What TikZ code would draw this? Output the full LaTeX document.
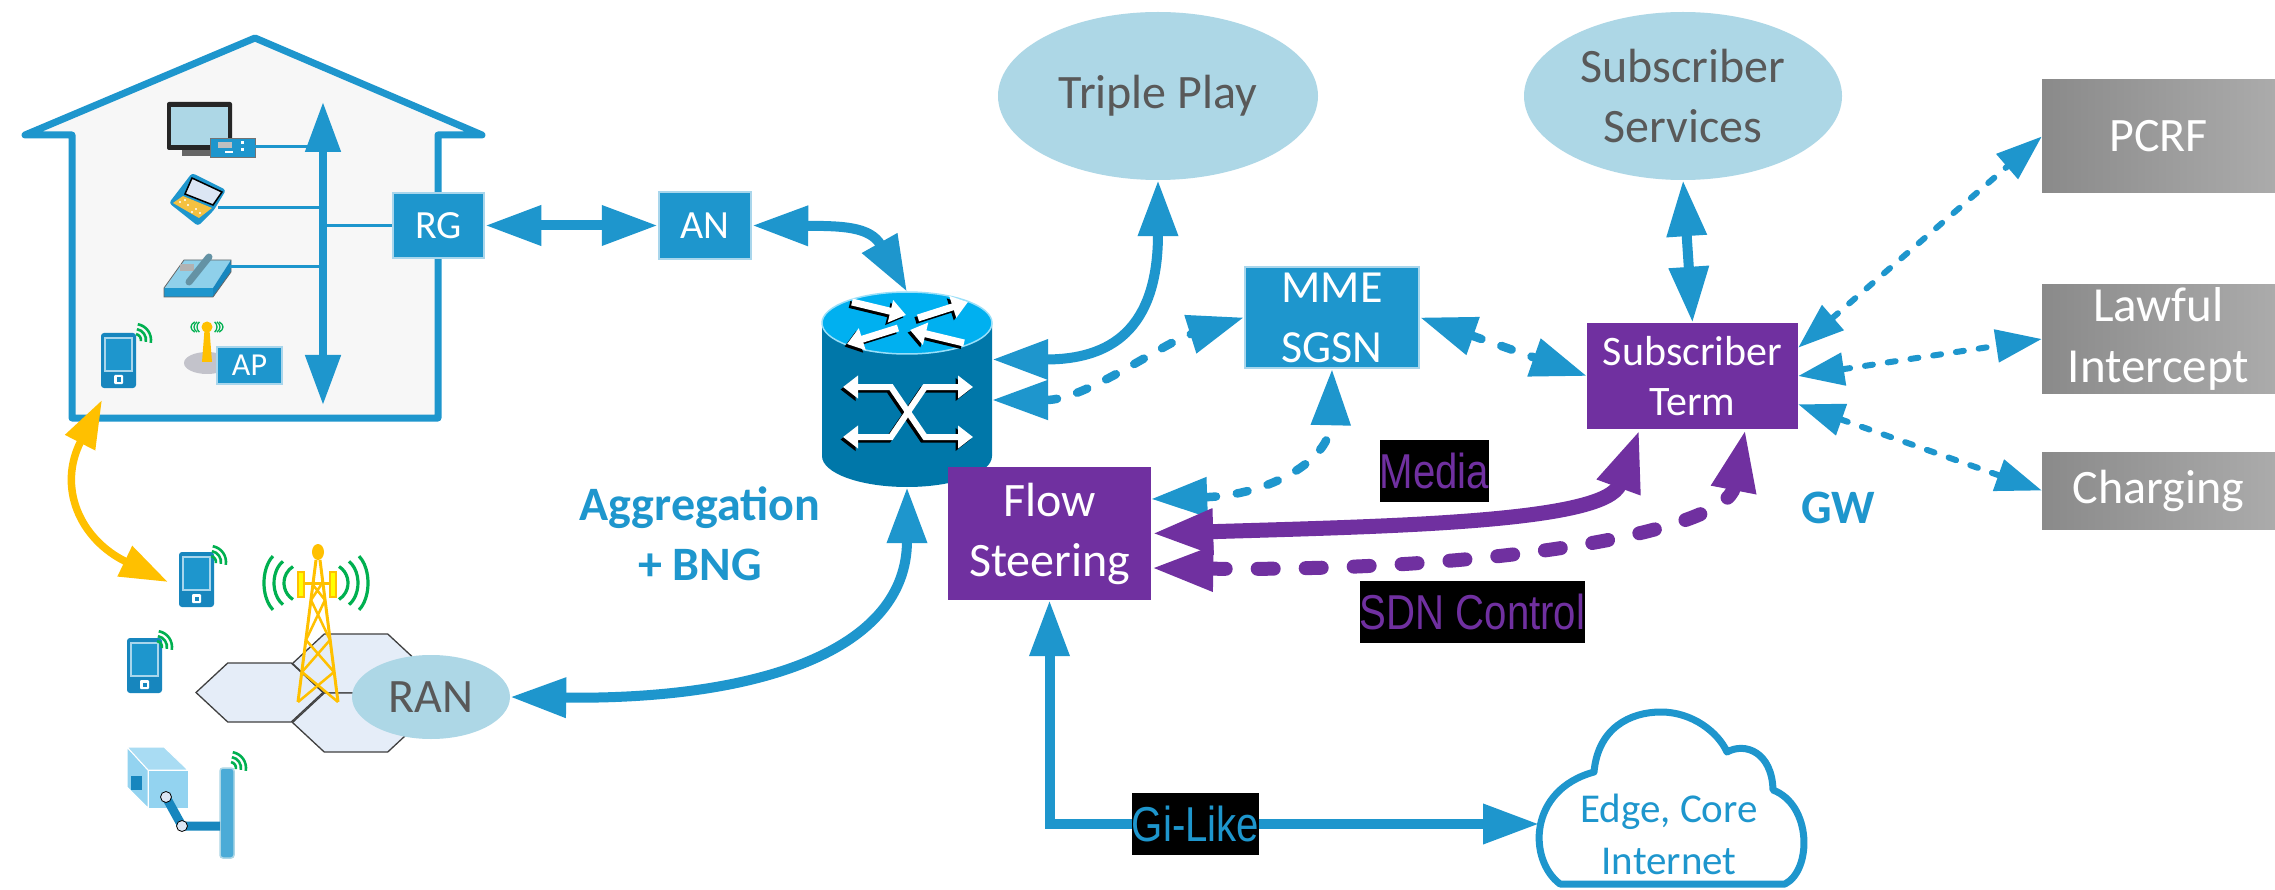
\documentclass[tikz,border=0pt]{standalone}
\usepackage{fontspec}
\setmainfont{Carlito}
\newfontfamily\narrowsans[FakeStretch=0.82]{Liberation Sans}
\usetikzlibrary{arrows.meta,calc,shapes.geometric}

\definecolor{netblue}{HTML}{1E96CD}
\definecolor{boxedge}{HTML}{A9D6EC}
\definecolor{svcblue}{HTML}{ADD7E6}
\definecolor{svctext}{HTML}{595959}
\definecolor{netpurple}{HTML}{7030A0}
\definecolor{graydark}{HTML}{8A8A8A}
\definecolor{graylight}{HTML}{ABABAB}
\definecolor{housefill}{HTML}{F7F7F7}
\definecolor{sunyellow}{HTML}{FFC000}
\definecolor{panelyellow}{HTML}{FFFF00}
\definecolor{wifigreen}{HTML}{00B050}
\definecolor{routertop}{HTML}{00B0F0}
\definecolor{routerbody}{HTML}{0077A9}
\definecolor{hexfill}{HTML}{E5EDF8}
\definecolor{hexedge}{HTML}{404040}
\definecolor{devblue}{HTML}{1786BE}
\definecolor{camlight}{HTML}{93D3F0}
\definecolor{screenlight}{HTML}{DCE6F4}
\definecolor{keyyellow}{HTML}{F4C141}
\definecolor{phonetop}{HTML}{8FD0EA}
\definecolor{apshadow}{HTML}{C3C3CB}

\newcommand{\fsLarge}{\fontsize{48}{60}\selectfont}
\newcommand{\fsTerm}{\fontsize{42}{50}\selectfont}
\newcommand{\fsBox}{\fontsize{40}{48}\selectfont}
\newcommand{\fsSmall}{\fontsize{32}{38}\selectfont}
\newcommand{\fsCloud}{\fontsize{41}{52}\selectfont}
\newcommand{\fsTag}{\fontsize{49}{56}\selectfont}

\tikzset{
  bhead/.tip={Triangle[length=56pt,width=38pt]},
  shead/.tip={Triangle[length=46pt,width=32pt]},
  phead/.tip={Triangle[length=62pt,width=42pt]},
  yhead/.tip={Triangle[length=48pt,width=32pt]},
  ihead/.tip={Triangle[length=50pt,width=34pt]},
  whead/.tip={Triangle[length=16pt,width=22pt]},
  netbox/.style={rectangle, fill=netblue, draw=boxedge, line width=2.5pt, text=white, inner sep=0pt, align=center},
  termbox/.style={rectangle, fill=netpurple, text=white, inner sep=0pt, align=center},
  extbox/.style={rectangle, left color=graydark, right color=graylight, text=white, inner sep=0pt, align=center},
  svc/.style={ellipse, fill=svcblue, text=svctext, inner sep=0pt, align=center},
  tag/.style={fill=black, inner xsep=0pt, inner ysep=0pt, minimum height=62pt, font=\narrowsans\fsTag},
  link/.style={draw=netblue, line width=10pt, {bhead}-{bhead}},
  ctrl/.style={draw=netblue, line width=8.5pt, line cap=round, dash pattern=on 11pt off 21pt, {bhead}-{bhead}},
  ext/.style={draw=netblue, line width=6pt, line cap=round, dash pattern=on 8pt off 15pt, {shead}-{shead}},
  media/.style={draw=netpurple, line width=15pt, {phead}-{phead}},
  sdn/.style={draw=netpurple, line width=14pt, line cap=round, dash pattern=on 16pt off 32pt, {phead}-{phead}},
  wire/.style={draw=netblue, line width=3pt},
  handset/.pic={
    \fill[devblue, rounded corners=3pt] (0,0) rectangle (35,55);
    \filldraw[fill=netblue, draw=boxedge, line width=1.2pt] (4,5) rectangle (31,38);
    \fill[white, rounded corners=1pt] (13,42) rectangle (22,51);
    \fill[devblue] (15.5,44.5) rectangle (19.5,48.5);
  },
  wifi/.pic={
    \foreach \r in {6,11,16}
      \draw[wifigreen, line width=2.6pt] (-80:\r) arc[start angle=-80, end angle=10, radius=\r];
  },
  hexcell/.pic={
    \filldraw[fill=hexfill, draw=hexedge, line width=1.3pt]
      (-63.5,0) -- (-31.75,-29.5) -- (31.75,-29.5) -- (63.5,0) -- (31.75,29.5) -- (-31.75,29.5) -- cycle;
  },
}

\begin{document}
\begin{tikzpicture}[x=1pt,y=-1pt]
\useasboundingbox (0,0) rectangle (2275,890);
\fill[white] (0,0) rectangle (2275,890);

% ---------- home network ----------
\draw[draw=netblue, fill=housefill, line width=7pt, line join=round]
  (25,135) -- (255,38) -- (482,135) -- (438,135) -- (438,418) -- (72,418) -- (72,135) -- cycle;

% TV with set-top box
\fill[black!85, rounded corners=2pt] (167,102) rectangle (232,150);
\fill[svcblue] (171,107) rectangle (228,145);
\fill[black!60] (182,150) rectangle (215,156);
\filldraw[fill=netblue, draw=black!55, line width=0.8pt] (210,138) rectangle (255,157);
\fill[black!25] (218,142) rectangle (232,148);
\fill[white] (241,141) rectangle (244,144);
\fill[white] (241,148) rectangle (244,151);
\fill[white] (225,151) rectangle (233,153);
\coordinate (tvport) at (255,147);

% laptop
\fill[netblue, rounded corners=3pt] (169,203) -- (192,173) -- (226,190) -- (214,210) -- (198,226) -- cycle;
\filldraw[fill=screenlight, draw=black, line width=1.5pt] (192,178) -- (222,192) -- (213,205) -- (185,194) -- cycle;
\fill[keyyellow] (173,203) -- (183,196) -- (212,208) -- (199,218) -- cycle;
\foreach \px/\py in {180/202,188/205,196/209,192/212,200/213,185/200}
  \fill[white] (\px,\py) circle (1.2);
\coordinate (laptopport) at (218,208);

% desk phone
\fill[phonetop] (164,288) -- (184,260) -- (231,260) -- (213,288) -- cycle;
\fill[netblue] (164,288) rectangle (213,297);
\fill[devblue] (213,288) -- (231,260) -- (231,272) -- (213,297) -- cycle;
\draw[black!60, line width=0.8pt] (164,288) -- (184,260) -- (231,260) -- (231,272) -- (213,297) -- (164,297) -- cycle;
\fill[black!30] (180,264) rectangle (194,271);
\draw[phonetop!70!black, line width=7pt, line cap=round] (189,282) -- (209,257);
\coordinate (phoneport) at (230,267);

% handset inside the home
\pic at (101,333) {handset};
\pic at (135,340) {wifi};

% access point antenna
\fill[apshadow] (207,363) ellipse[x radius=23, y radius=11];
\fill[sunyellow] (204.5,330) -- (209.5,330) -- (212,362) -- (202,362) -- cycle;
\fill[sunyellow] (207,327) circle (5.5);
\foreach \rx in {10,13,16} {
  \draw[wifigreen, line width=1.3pt] (207,327) ++({\rx*cos(140)},{8*sin(140)}) arc[start angle=140, end angle=220, x radius=\rx, y radius=8];
  \draw[wifigreen, line width=1.3pt] (207,327) ++({\rx*cos(-40)},{8*sin(-40)}) arc[start angle=-40, end angle=40, x radius=\rx, y radius=8];
}

% in-home bus
\coordinate (busT) at (323,102);
\coordinate (busB) at (323,405);
\node[netbox, minimum width=91pt, minimum height=65pt, font=\fsBox] (rg) at (438.5,225.5) {RG};
\node[netbox, minimum width=65pt, minimum height=37pt, font=\fsSmall] (ap) at (249.5,365.5) {AP};
\draw[wire] (tvport) -- (tvport -| busT);
\draw[wire] (laptopport) -- (laptopport -| busT);
\draw[wire] (phoneport) -- (phoneport -| busT);
\draw[wire] ($(ap.east)+(0,-10)$) -- ($(ap.east)+(0,-10)$ -| busT);
\draw[wire] (rg.west) -- (rg.west -| busT);
\draw[draw=netblue, line width=8pt, {ihead}-{ihead}] (busT) -- (busB);

% ---------- radio access ----------
\pic at (259.5,692.5) {hexcell};
\pic at (356,663.5) {hexcell};
\pic at (356,722.5) {hexcell};

% cell tower
\draw[sunyellow, line width=3pt] (316,560) -- (298,702) (320,560) -- (338,702);
\draw[sunyellow, line width=2.5pt]
  (313,585) -- (325,600) (321,585) -- (311,600)
  (311,600) -- (330,640) (325,600) -- (306,640)
  (306,640) -- (334,672) (330,640) -- (302,672)
  (302,672) -- (338,702) (334,672) -- (298,702);
\draw[sunyellow, line width=3pt] (304,583) -- (330,583);
\filldraw[fill=panelyellow, draw=sunyellow, line width=1.5pt] (298,572) rectangle (304,597);
\filldraw[fill=panelyellow, draw=sunyellow, line width=1.5pt] (330,572) rectangle (336,597);
\fill[sunyellow] (318,552) ellipse[x radius=6, y radius=8];
\foreach \lx/\rx/\bh in {264/368/31, 274/358/25, 284/348/19} {
  \draw[wifigreen, line width=3.2pt] (\lx+18,583) ++({18*cos(120)},{\bh*sin(120)}) arc[start angle=120, end angle=240, x radius=18, y radius=\bh];
  \draw[wifigreen, line width=3.2pt] (\rx-18,583) ++({18*cos(-60)},{\bh*sin(-60)}) arc[start angle=-60, end angle=60, x radius=18, y radius=\bh];
}

% handsets in the field
\pic at (179,552) {handset};
\pic at (210,562) {wifi};
\pic at (127,638) {handset};
\pic at (156,647) {wifi};

% surveillance camera
\filldraw[fill=camlight, draw=white, line width=1pt] (127,747) -- (148,770) -- (148,808) -- (127,787) -- cycle;
\filldraw[fill=camlight!80!white, draw=white, line width=1pt] (127,747) -- (164,747) -- (188,770) -- (148,770) -- cycle;
\filldraw[fill=camlight, draw=white, line width=1pt] (148,770) rectangle (188,808);
\fill[devblue] (131,776) rectangle (142,790);
\filldraw[fill=netblue!80!white, draw=svcblue, line width=1.5pt, rounded corners=3pt] (220,768) rectangle (234,858);
\draw[devblue, line width=9pt, line join=round] (166,797) -- (182,826) -- (220,826);
\filldraw[fill=screenlight, draw=black, line width=0.8pt] (166,797) circle (5.5);
\filldraw[fill=screenlight, draw=black, line width=0.8pt] (182,826) circle (5.5);
\pic at (230,768) {wifi};

\node[svc, minimum width=158pt, minimum height=84pt, font=\fsLarge] (ran) at (431,697) {RAN};

% home to handset radio link
\coordinate (homeue) at (102,400);
\coordinate (fieldue) at (168,582);
\draw[sunyellow, line width=7.5pt, {yhead}-{yhead}] (homeue) .. controls (57,487.5) and (80,539.5) .. (fieldue);

% ---------- aggregation router ----------
\fill[routerbody] (822,323) -- (822,456) arc[start angle=180, end angle=0, x radius=85, y radius=31] -- (992,323) -- cycle;
\filldraw[fill=routertop, draw=routertop!40!white, line width=1.5pt] (907,323) ellipse[x radius=85, y radius=31];
\foreach \ox/\oy/\sc in {-2.5/2.5/black, 0/0/white} {
  \begin{scope}[shift={(\ox,\oy)}]
    \draw[color=\sc, line width=7pt, -{whead}] (852,302) -- (906,315);
    \draw[color=\sc, line width=7pt, -{whead}] (918,318) -- (968,302);
    \draw[color=\sc, line width=7pt, -{whead}] (964,343) -- (910,330);
    \draw[color=\sc, line width=7pt, -{whead}] (898,328) -- (847,344);
    \draw[color=\sc, line width=6pt, {Triangle[length=15pt,width=22pt]}-{Triangle[length=15pt,width=22pt]}]
      (843,387) -- (891,387) -- (925,437) -- (973,437);
    \draw[color=\sc, line width=6pt, {Triangle[length=15pt,width=22pt]}-{Triangle[length=15pt,width=22pt]}]
      (843,437) -- (891,437) -- (925,387) -- (973,387);
  \end{scope}
}
\node[minimum width=170pt, minimum height=195pt, inner sep=0pt] (router) at (907,389.5) {};

\node[netbox, minimum width=92pt, minimum height=67pt, font=\fsBox] (an) at (705,225.5) {AN};
\node[font=\bfseries\fsLarge, text=netblue, align=center] (aggr) at (700,534) {Aggregation\\+ BNG};

% ---------- core nodes ----------
\node[svc, minimum width=320pt, minimum height=168pt, font=\fsLarge] (tp) at (1158,96) {Triple Play};
\node[svc, minimum width=318pt, minimum height=168pt, font=\fsLarge] (subsvc) at (1683,96) {Subscriber\\Services};
\node[netbox, minimum width=174pt, minimum height=101pt, font=\fontsize{46}{60}\selectfont] (mme) at (1332,317.5) {MME\\SGSN};
\node[termbox, minimum width=203pt, minimum height=133pt, font=\fsLarge] (flow) at (1049.5,533.5) {Flow\\Steering};
\node[termbox, minimum width=211pt, minimum height=106pt, font=\fsTerm] (subterm) at (1692.5,376) {Subscriber\\Term};
\node[extbox, minimum width=233pt, minimum height=113pt, font=\fsLarge] (pcrf) at (2158.5,136.5) {PCRF};
\node[extbox, minimum width=233pt, minimum height=108pt, font=\fontsize{49}{61}\selectfont] (lawful) at (2158.5,339) {Lawful\\Intercept};
\node[extbox, minimum width=233pt, minimum height=77pt, font=\fsLarge] (charging) at (2158.5,490.5) {Charging};
\node[font=\bfseries\fsLarge, text=netblue] (gw) at (1838,508) {GW};

% internet cloud
\draw[draw=netblue, fill=white, line width=7pt, line join=round]
  (1560,884) .. controls (1528,860) and (1528,790) .. (1594,772)
  .. controls (1598,728) and (1630,712) .. (1661,712)
  .. controls (1692,712) and (1718,732) .. (1727,752)
  .. controls (1745,742) and (1772,752) .. (1773,790)
  .. controls (1812,805) and (1812,870) .. (1785,884) -- cycle;
\node[font=\fsCloud, text=netblue, align=center] (cloudtxt) at (1669,834) {Edge, Core\\Internet};
\coordinate (cloudW) at (1539,824);

% ---------- connectors ----------
\draw[link] (rg.east) -- (an.west);
\draw[link] (an.east) .. controls (840,226) and (870,226) .. (router.north);
\draw[link] ($(router.east)+(0,-30)$) .. controls (1110,359.5) and (1158,330) .. (tp.south);
\draw[link] (router.south) .. controls (907,650) and (760,700) .. (ran.east);
\draw[ctrl] ($(router.east)+(0,10.5)$) .. controls (1086,400) and (1162.5,343) .. (mme.west);
\draw[ctrl] ($(flow.east)+(0,-34.5)$) .. controls (1270,495) and (1330,460) .. (mme.south);
\draw[ctrl] (mme.east) -- (subterm.west);
\draw[link] (subsvc.south) -- (subterm.north);
\draw[ext] (subterm.15) -- (pcrf.west);
\draw[ext] (subterm.east) -- (lawful.west);
\draw[ext] (subterm.-15) -- (charging.west);
\draw[media] (flow.east) .. controls (1400,526) and (1606,522) .. ($(subterm.south west)!0.25!(subterm.south east)$);
\draw[sdn] ($(flow.east)+(0,34.5)$) .. controls (1500,572) and (1725.7,530.8) .. ($(subterm.south west)!0.75!(subterm.south east)$);
\draw[link] (flow.south) |- (cloudW);

% ---------- connector labels ----------
\node[tag, text=netpurple] (medialbl) at (1434.5,471) {Media};
\node[tag, text=netpurple] (sdnlbl) at (1472.5,612) {SDN Control};
\node[tag, text=netblue] (gilbl) at (1195.5,824) {Gi-Like};

\end{tikzpicture}
\end{document}
